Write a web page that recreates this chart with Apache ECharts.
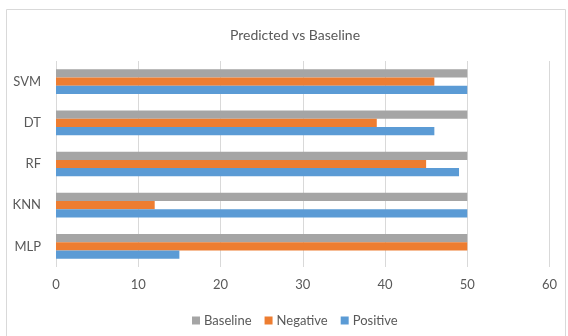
<!DOCTYPE html>
<html>
<head>
<meta charset="utf-8">
<script src="https://cdn.jsdelivr.net/npm/echarts@6/dist/echarts.min.js"></script>
<style>
  html, body { margin: 0; padding: 0; background: #fff; }
  #chart { width: 568px; height: 336px; }
</style>
</head>
<body>
<div id="chart"></div>
<script>
// Models, bottom to top
const categories = ['MLP', 'KNN', 'RF', 'DT', 'SVM'];
const positive = [15, 50, 49, 46, 50];
const negative = [50, 12, 45, 39, 46];
const baseline = [50, 50, 50, 50, 50];
const xTicks = [0, 10, 20, 30, 40, 50, 60];

const textColor = '#595959';
const fontFamily = 'Lato, "Open Sans", sans-serif';

const chart = echarts.init(document.getElementById('chart'), null, { renderer: 'canvas' });

const barCommon = { type: 'bar', barGap: '0%', barCategoryGap: '40%' };

chart.setOption({
  animation: false,
  backgroundColor: '#fff',
  title: {
    text: 'Predicted vs Baseline',
    left: 290,
    top: 23,
    textAlign: 'center',
    textStyle: { color: textColor, fontSize: 14, fontWeight: 'normal', fontFamily }
  },
  graphic: [{
    type: 'rect',
    shape: { x: 6.5, y: 9.5, width: 559, height: 340 },
    style: { fill: 'none', stroke: '#D9D9D9', lineWidth: 1 },
    silent: true,
    z: -1
  }],
  legend: {
    data: ['Baseline', 'Negative', 'Positive'],
    left: 187,
    top: 309,
    orient: 'horizontal',
    itemWidth: 8,
    itemHeight: 8,
    itemGap: 13,
    icon: 'rect',
    textStyle: { color: textColor, fontSize: 13, fontFamily, padding: [0, 0, 0, -1] }
  },
  grid: { left: 56, right: 18.5, top: 61, bottom: 69 },
  xAxis: {
    type: 'value',
    min: xTicks[0],
    max: xTicks[xTicks.length - 1],
    interval: 10,
    axisLine: { show: false },
    axisTick: { show: false },
    splitLine: { lineStyle: { color: '#D9D9D9', width: 1 } },
    axisLabel: { color: textColor, fontSize: 13, fontFamily, margin: 11 }
  },
  yAxis: {
    type: 'category',
    data: categories,
    axisLine: { show: false },
    axisTick: { show: false },
    axisLabel: { color: textColor, fontSize: 13, fontFamily, margin: 15 }
  },
  // within each group the first series sits on top
  series: [
    Object.assign({ name: 'Baseline', data: baseline, itemStyle: { color: '#A5A5A5' } }, barCommon),
    Object.assign({ name: 'Negative', data: negative, itemStyle: { color: '#ED7D31' } }, barCommon),
    Object.assign({ name: 'Positive', data: positive, itemStyle: { color: '#5B9BD5' } }, barCommon)
  ]
});
</script>
</body>
</html>
